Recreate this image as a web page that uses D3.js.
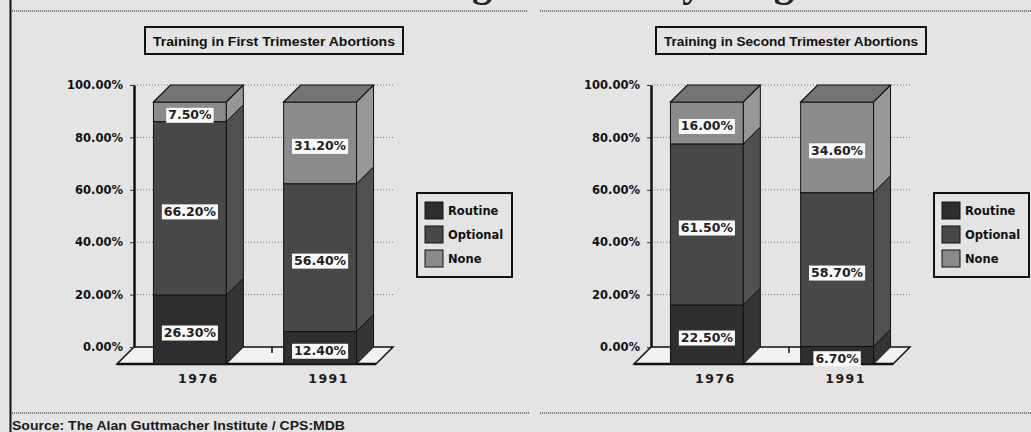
<!DOCTYPE html>
<html>
<head>
<meta charset="utf-8">
<script src="https://cdn.jsdelivr.net/npm/d3@7"></script>
<style>
  body { margin: 0; background: #e4e4e4; }
  svg { display: block; }
</style>
</head>
<body>
<svg id="chart"></svg>
<script>
// values (percent of programs)
const years = ['1976', '1991'];
const seriesNames = ['Routine', 'Optional', 'None'];
const firstRoutine = [26.3, 12.4];
const firstOptional = [66.2, 56.4];
const firstNone = [7.5, 31.2];
const secondRoutine = [22.5, 6.7];
const secondOptional = [61.5, 58.7];
const secondNone = [16.0, 34.6];
const yTicks = [0, 20, 40, 60, 80, 100];
const panelTitles = ['Training in First Trimester Abortions', 'Training in Second Trimester Abortions'];
const sourceText = 'Source: The Alan Guttmacher Institute / CPS:MDB';

const width = 1031;
const height = 432;
const depth = 17;
const panelOffset = 517;
const wallLeft = 134, wallRight = 393;
const labelFont = 'DejaVu Sans, sans-serif';

const colors = { Routine: '#2e2e2e', Optional: '#484848', None: '#8b8b8b' };
const sideColors = { Routine: '#353535', Optional: '#505050', None: '#979797' };
const topColor = '#747474';

const svg = d3.select('#chart')
    .attr('width', width)
    .attr('height', height);

svg.append('rect')
    .attr('width', width)
    .attr('height', height)
    .attr('fill', '#e4e4e4');

// cut-off headline: only the descenders reach into the frame
svg.append('text')
    .attr('font-family', 'Liberation Serif, serif')
    .attr('font-weight', 'bold')
    .attr('font-size', 40)
    .attr('fill', '#222')
    .call(t => {
        t.append('tspan').attr('x', 492).attr('y', -4).attr('text-anchor', 'end').text('Abortion Training');
        t.append('tspan').attr('x', 660).attr('y', -4).attr('text-anchor', 'start').text('by Program');
    });

// frame lines
svg.append('line')
    .attr('x1', 10.5).attr('x2', 10.5)
    .attr('y1', 0).attr('y2', height)
    .attr('stroke', '#111').attr('stroke-width', 2);

[[12, 527, 11], [540, 1031, 11], [12, 530, 413], [540, 1031, 413]].forEach(s => {
    svg.append('line')
        .attr('x1', s[0]).attr('x2', s[1])
        .attr('y1', s[2]).attr('y2', s[2])
        .attr('stroke', '#555')
        .attr('stroke-width', 1.3)
        .attr('stroke-dasharray', '1,1');
});

svg.append('text')
    .attr('x', 12)
    .attr('y', 430)
    .attr('font-family', 'Liberation Sans, Arial, sans-serif')
    .attr('font-weight', 'bold')
    .attr('font-size', 13.5)
    .attr('textLength', 333)
    .attr('lengthAdjust', 'spacingAndGlyphs')
    .attr('fill', '#1a1a1a')
    .text(sourceText);

function drawPanel(ox, title, titleLen, routine, optional, none) {
    const rows = years.map((y, i) => ({ year: y, Routine: routine[i], Optional: optional[i], None: none[i] }));
    const stacked = d3.stack().keys(seriesNames)(rows);

    const canvas = svg.append('g')
        .attr('transform', `translate(${ox},0)`);

    const yScale = d3.scaleLinear()
        .domain([0, 100])
        .range([347, 85]);
    // front face of the bars sits one depth step lower-left
    const fy = v => yScale(v) + depth;
    const xScale = d3.scaleBand()
        .domain(years)
        .range([wallLeft - depth, wallRight])
        .paddingInner(0.44)
        .paddingOuter(0.28);
    const bw = xScale.bandwidth();

    // title box
    canvas.append('rect')
        .attr('x', 274 - titleLen / 2 - 8)
        .attr('y', 27)
        .attr('width', titleLen + 16)
        .attr('height', 27)
        .attr('fill', 'none')
        .attr('stroke', '#111')
        .attr('stroke-width', 2);
    canvas.append('text')
        .attr('x', 274)
        .attr('y', 45.5)
        .attr('text-anchor', 'middle')
        .attr('font-family', 'Liberation Sans, Arial, sans-serif')
        .attr('font-weight', 'bold')
        .attr('font-size', 13.5)
        .attr('textLength', titleLen)
        .attr('lengthAdjust', 'spacingAndGlyphs')
        .attr('fill', '#111')
        .text(title);

    // back wall grid
    canvas.selectAll('.grid')
        .data(yTicks.filter(d => d > 0))
        .enter()
        .append('line')
        .attr('class', 'grid')
        .attr('x1', wallLeft)
        .attr('x2', wallRight)
        .attr('y1', d => yScale(d))
        .attr('y2', d => yScale(d))
        .attr('stroke', '#777')
        .attr('stroke-width', 1)
        .attr('stroke-dasharray', '1,2');

    // floor
    const y0 = yScale(0);
    canvas.append('polygon')
        .attr('points', [
            [wallLeft, y0], [wallRight, y0],
            [wallRight - depth, y0 + depth], [wallLeft - depth, y0 + depth]
        ].join(' '))
        .attr('fill', '#f2f2f2')
        .attr('stroke', '#111')
        .attr('stroke-width', 1.5);
    canvas.append('line')
        .attr('x1', wallLeft - depth).attr('x2', wallRight - depth)
        .attr('y1', y0 + depth).attr('y2', y0 + depth)
        .attr('stroke', '#111').attr('stroke-width', 2.5);
    const midX = (xScale(years[0]) + bw + xScale(years[1])) / 2 + depth;
    canvas.append('line')
        .attr('x1', midX).attr('x2', midX)
        .attr('y1', y0).attr('y2', y0 + 6)
        .attr('stroke', '#111').attr('stroke-width', 1.5);

    // y axis on the back wall
    const yAxis = d3.axisLeft(yScale)
        .tickValues(yTicks)
        .tickFormat(d => d.toFixed(2) + '%')
        .tickSize(4)
        .tickSizeOuter(0)
        .tickPadding(7);
    const yAxisGroup = canvas.append('g')
        .attr('transform', `translate(${wallLeft},0)`)
        .call(yAxis);
    yAxisGroup.select('.domain')
        .attr('stroke', '#111')
        .attr('stroke-width', 2.5);
    yAxisGroup.selectAll('.tick line').attr('stroke', '#333');
    yAxisGroup.selectAll('.tick text')
        .attr('font-family', labelFont)
        .attr('font-weight', 'bold')
        .attr('font-size', 11.5)
        .attr('fill', '#111');

    // bars: front, side and top faces
    stacked.forEach(layer => {
        const key = layer.key;
        const grp = canvas.append('g');
        grp.selectAll('.front')
            .data(layer)
            .enter()
            .append('rect')
            .attr('class', 'front')
            .attr('x', d => xScale(d.data.year))
            .attr('y', d => fy(d[1]))
            .attr('width', bw)
            .attr('height', d => fy(d[0]) - fy(d[1]))
            .attr('fill', colors[key])
            .attr('stroke', '#111')
            .attr('stroke-width', 1);
        grp.selectAll('.side')
            .data(layer)
            .enter()
            .append('polygon')
            .attr('class', 'side')
            .attr('points', d => {
                const x = xScale(d.data.year) + bw;
                return [[x, fy(d[1])], [x + depth, yScale(d[1])], [x + depth, yScale(d[0])], [x, fy(d[0])]].join(' ');
            })
            .attr('fill', sideColors[key])
            .attr('stroke', '#111')
            .attr('stroke-width', 1);
    });
    const topLayer = stacked[stacked.length - 1];
    canvas.selectAll('.topface')
        .data(topLayer)
        .enter()
        .append('polygon')
        .attr('class', 'topface')
        .attr('points', d => {
            const x = xScale(d.data.year);
            return [[x, fy(d[1])], [x + depth, yScale(d[1])], [x + bw + depth, yScale(d[1])], [x + bw, fy(d[1])]].join(' ');
        })
        .attr('fill', topColor)
        .attr('stroke', '#111')
        .attr('stroke-width', 1.2);

    // value labels in white boxes
    stacked.forEach(layer => {
        layer.forEach(d => {
            const cx = xScale(d.data.year) + bw / 2;
            const cy = (fy(d[0]) + fy(d[1])) / 2 + 3;
            const lab = canvas.append('g');
            const t = lab.append('text')
                .attr('x', cx)
                .attr('y', cy + 4.5)
                .attr('text-anchor', 'middle')
                .attr('font-family', labelFont)
                .attr('font-weight', 'bold')
                .attr('font-size', 12.5)
                .attr('fill', '#222')
                .text((d[1] - d[0]).toFixed(2) + '%');
            const len = t.node().getComputedTextLength();
            lab.insert('rect', 'text')
                .attr('x', cx - len / 2 - 2)
                .attr('y', cy - 7)
                .attr('width', len + 4)
                .attr('height', 15)
                .attr('fill', '#fafafa');
        });
    });

    // category labels
    canvas.selectAll('.year')
        .data(years)
        .enter()
        .append('text')
        .attr('class', 'year')
        .attr('x', d => xScale(d) + bw / 2 + depth / 2)
        .attr('y', 383)
        .attr('text-anchor', 'middle')
        .attr('font-family', labelFont)
        .attr('font-weight', 'bold')
        .attr('font-size', 12.5)
        .attr('letter-spacing', 1.5)
        .attr('fill', '#1a1a1a')
        .text(d => d);

    // legend
    const legend = canvas.append('g')
        .attr('transform', 'translate(417,193)');
    legend.append('rect')
        .attr('width', 95)
        .attr('height', 84)
        .attr('fill', 'none')
        .attr('stroke', '#111')
        .attr('stroke-width', 2);
    seriesNames.forEach((name, i) => {
        legend.append('rect')
            .attr('x', 8)
            .attr('y', 9 + i * 24)
            .attr('width', 18)
            .attr('height', 17)
            .attr('fill', colors[name])
            .attr('stroke', '#111');
        legend.append('text')
            .attr('x', 31)
            .attr('y', 22 + i * 24)
            .attr('font-family', labelFont)
            .attr('font-weight', 'bold')
            .attr('font-size', 11.5)
            .attr('fill', '#111')
            .text(name);
    });
}

drawPanel(0, panelTitles[0], 242, firstRoutine, firstOptional, firstNone);
drawPanel(panelOffset, panelTitles[1], 254, secondRoutine, secondOptional, secondNone);
</script>
</body>
</html>
